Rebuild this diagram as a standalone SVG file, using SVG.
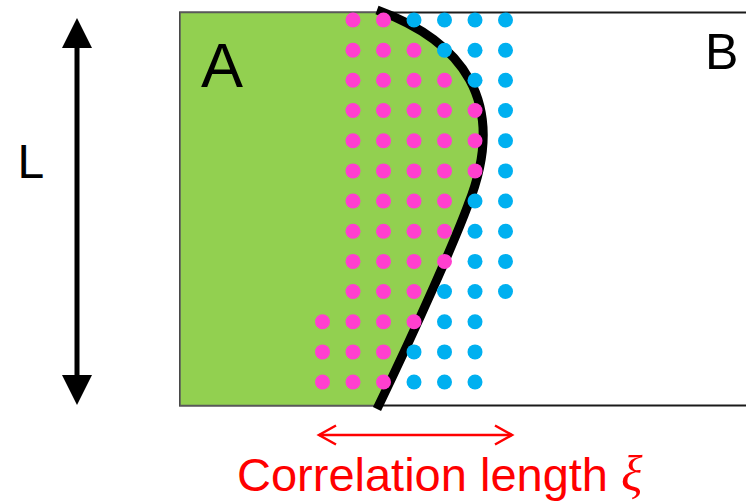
<svg xmlns="http://www.w3.org/2000/svg" width="746" height="502" viewBox="0 0 746 502">
  <style>
    .p { fill: #FF3FCF; }
    .c { fill: #00B0F0; }
    .lbl { font-family: "Liberation Sans", Arial, sans-serif; fill: #000; }
    .red { font-family: "Liberation Sans", Arial, sans-serif; fill: #FF0000; }
  </style>
  <defs>
    <clipPath id="box">
      <rect x="180" y="12.5" width="600" height="393"/>
    </clipPath>
    <marker id="blackHead" markerUnits="userSpaceOnUse" viewBox="0 -15 30 30" markerWidth="30" markerHeight="30" refX="8" refY="0" orient="auto-start-reverse">
      <path d="M0,-15 L30,0 L0,15 Z" fill="#000"/>
    </marker>
    <marker id="redHead" markerUnits="userSpaceOnUse" viewBox="-20 -12 24 24" markerWidth="24" markerHeight="24" refX="0" refY="0" orient="auto-start-reverse" overflow="visible">
      <path d="M-17,-9.5 L0,0 L-17,9.5" fill="none" stroke="#FF0000" stroke-width="2.5"/>
    </marker>
  </defs>

  <g id="regionB">
    <rect x="180" y="12.5" width="600" height="393" fill="#FFFFFF" stroke="#1a1a1a" stroke-width="2"/>
  </g>

  <g id="regionA">
    <path clip-path="url(#box)" d="M180,0 L377,0 L377,10 C460,40 510,100 468,205 C455,240 420,320 377,409 L377,420 L180,420 Z" fill="#92D050"/>
    <path d="M382,12.5 L180,12.5 L180,405.5 L378,405.5" fill="none" stroke="#595959" stroke-width="1.5"/>
  </g>

  <g id="interface">
    <path d="M377,10 C460,40 510,100 468,205 C455,240 420,320 377,409" fill="none" stroke="#000" stroke-width="9"/>
  </g>

  <g id="dots">
    <circle class="p" cx="353" cy="20" r="7.5"/><circle class="p" cx="383.5" cy="20" r="7.5"/>
    <circle class="c" cx="414" cy="20" r="7.5"/><circle class="c" cx="444.5" cy="20" r="7.5"/><circle class="c" cx="475" cy="20" r="7.5"/><circle class="c" cx="505.5" cy="20" r="7.5"/>
    <circle class="p" cx="353" cy="50.2" r="7.5"/><circle class="p" cx="383.5" cy="50.2" r="7.5"/><circle class="p" cx="414" cy="50.2" r="7.5"/>
    <circle class="c" cx="444.5" cy="50.2" r="7.5"/><circle class="c" cx="475" cy="50.2" r="7.5"/><circle class="c" cx="505.5" cy="50.2" r="7.5"/>
    <circle class="p" cx="353" cy="80.3" r="7.5"/><circle class="p" cx="383.5" cy="80.3" r="7.5"/><circle class="p" cx="414" cy="80.3" r="7.5"/><circle class="p" cx="444.5" cy="80.3" r="7.5"/>
    <circle class="c" cx="475" cy="80.3" r="7.5"/><circle class="c" cx="505.5" cy="80.3" r="7.5"/>
    <circle class="p" cx="353" cy="110.5" r="7.5"/><circle class="p" cx="383.5" cy="110.5" r="7.5"/><circle class="p" cx="414" cy="110.5" r="7.5"/><circle class="p" cx="444.5" cy="110.5" r="7.5"/><circle class="p" cx="475" cy="110.5" r="7.5"/>
    <circle class="c" cx="505.5" cy="110.5" r="7.5"/>
    <circle class="p" cx="353" cy="140.7" r="7.5"/><circle class="p" cx="383.5" cy="140.7" r="7.5"/><circle class="p" cx="414" cy="140.7" r="7.5"/><circle class="p" cx="444.5" cy="140.7" r="7.5"/><circle class="p" cx="475" cy="140.7" r="7.5"/>
    <circle class="c" cx="505.5" cy="140.7" r="7.5"/>
    <circle class="p" cx="353" cy="170.9" r="7.5"/><circle class="p" cx="383.5" cy="170.9" r="7.5"/><circle class="p" cx="414" cy="170.9" r="7.5"/><circle class="p" cx="444.5" cy="170.9" r="7.5"/><circle class="p" cx="475" cy="170.9" r="7.5"/>
    <circle class="c" cx="505.5" cy="170.9" r="7.5"/>
    <circle class="p" cx="353" cy="201" r="7.5"/><circle class="p" cx="383.5" cy="201" r="7.5"/><circle class="p" cx="414" cy="201" r="7.5"/><circle class="p" cx="444.5" cy="201" r="7.5"/>
    <circle class="c" cx="475" cy="201" r="7.5"/><circle class="c" cx="505.5" cy="201" r="7.5"/>
    <circle class="p" cx="353" cy="231.2" r="7.5"/><circle class="p" cx="383.5" cy="231.2" r="7.5"/><circle class="p" cx="414" cy="231.2" r="7.5"/><circle class="p" cx="444.5" cy="231.2" r="7.5"/>
    <circle class="c" cx="475" cy="231.2" r="7.5"/><circle class="c" cx="505.5" cy="231.2" r="7.5"/>
    <circle class="p" cx="353" cy="261.4" r="7.5"/><circle class="p" cx="383.5" cy="261.4" r="7.5"/><circle class="p" cx="414" cy="261.4" r="7.5"/><circle class="p" cx="444.5" cy="261.4" r="7.5"/>
    <circle class="c" cx="475" cy="261.4" r="7.5"/><circle class="c" cx="505.5" cy="261.4" r="7.5"/>
    <circle class="p" cx="353" cy="291.5" r="7.5"/><circle class="p" cx="383.5" cy="291.5" r="7.5"/><circle class="p" cx="414" cy="291.5" r="7.5"/>
    <circle class="c" cx="444.5" cy="291.5" r="7.5"/><circle class="c" cx="475" cy="291.5" r="7.5"/><circle class="c" cx="505.5" cy="291.5" r="7.5"/>
    <circle class="p" cx="322.5" cy="321.7" r="7.5"/><circle class="p" cx="353" cy="321.7" r="7.5"/><circle class="p" cx="383.5" cy="321.7" r="7.5"/><circle class="p" cx="414" cy="321.7" r="7.5"/>
    <circle class="c" cx="444.5" cy="321.7" r="7.5"/><circle class="c" cx="475" cy="321.7" r="7.5"/>
    <circle class="p" cx="322.5" cy="351.9" r="7.5"/><circle class="p" cx="353" cy="351.9" r="7.5"/><circle class="p" cx="383.5" cy="351.9" r="7.5"/>
    <circle class="c" cx="414" cy="351.9" r="7.5"/><circle class="c" cx="444.5" cy="351.9" r="7.5"/><circle class="c" cx="475" cy="351.9" r="7.5"/>
    <circle class="p" cx="322.5" cy="382" r="7.5"/><circle class="p" cx="353" cy="382" r="7.5"/><circle class="p" cx="383.5" cy="382" r="7.5"/>
    <circle class="c" cx="414" cy="382" r="7.5"/><circle class="c" cx="444.5" cy="382" r="7.5"/><circle class="c" cx="475" cy="382" r="7.5"/>
  </g>

  <g id="connectors">
    <line x1="77" y1="40" x2="77" y2="383" stroke="#000" stroke-width="5" marker-start="url(#blackHead)" marker-end="url(#blackHead)"/>
    <line x1="319" y1="435" x2="512" y2="435" stroke="#FF0000" stroke-width="2.5" marker-start="url(#redHead)" marker-end="url(#redHead)"/>
  </g>

  <g id="labels">
    <text class="lbl" x="201" y="87" font-size="63">A</text>
    <text class="lbl" x="705" y="69" font-size="50">B</text>
    <text class="lbl" x="17.5" y="178" font-size="48">L</text>
    <text class="red" x="237" y="491" font-size="47">Correlation length <tspan font-family="'Liberation Serif', 'Times New Roman', serif" font-style="italic" font-size="50">ξ</tspan></text>
  </g>
</svg>
